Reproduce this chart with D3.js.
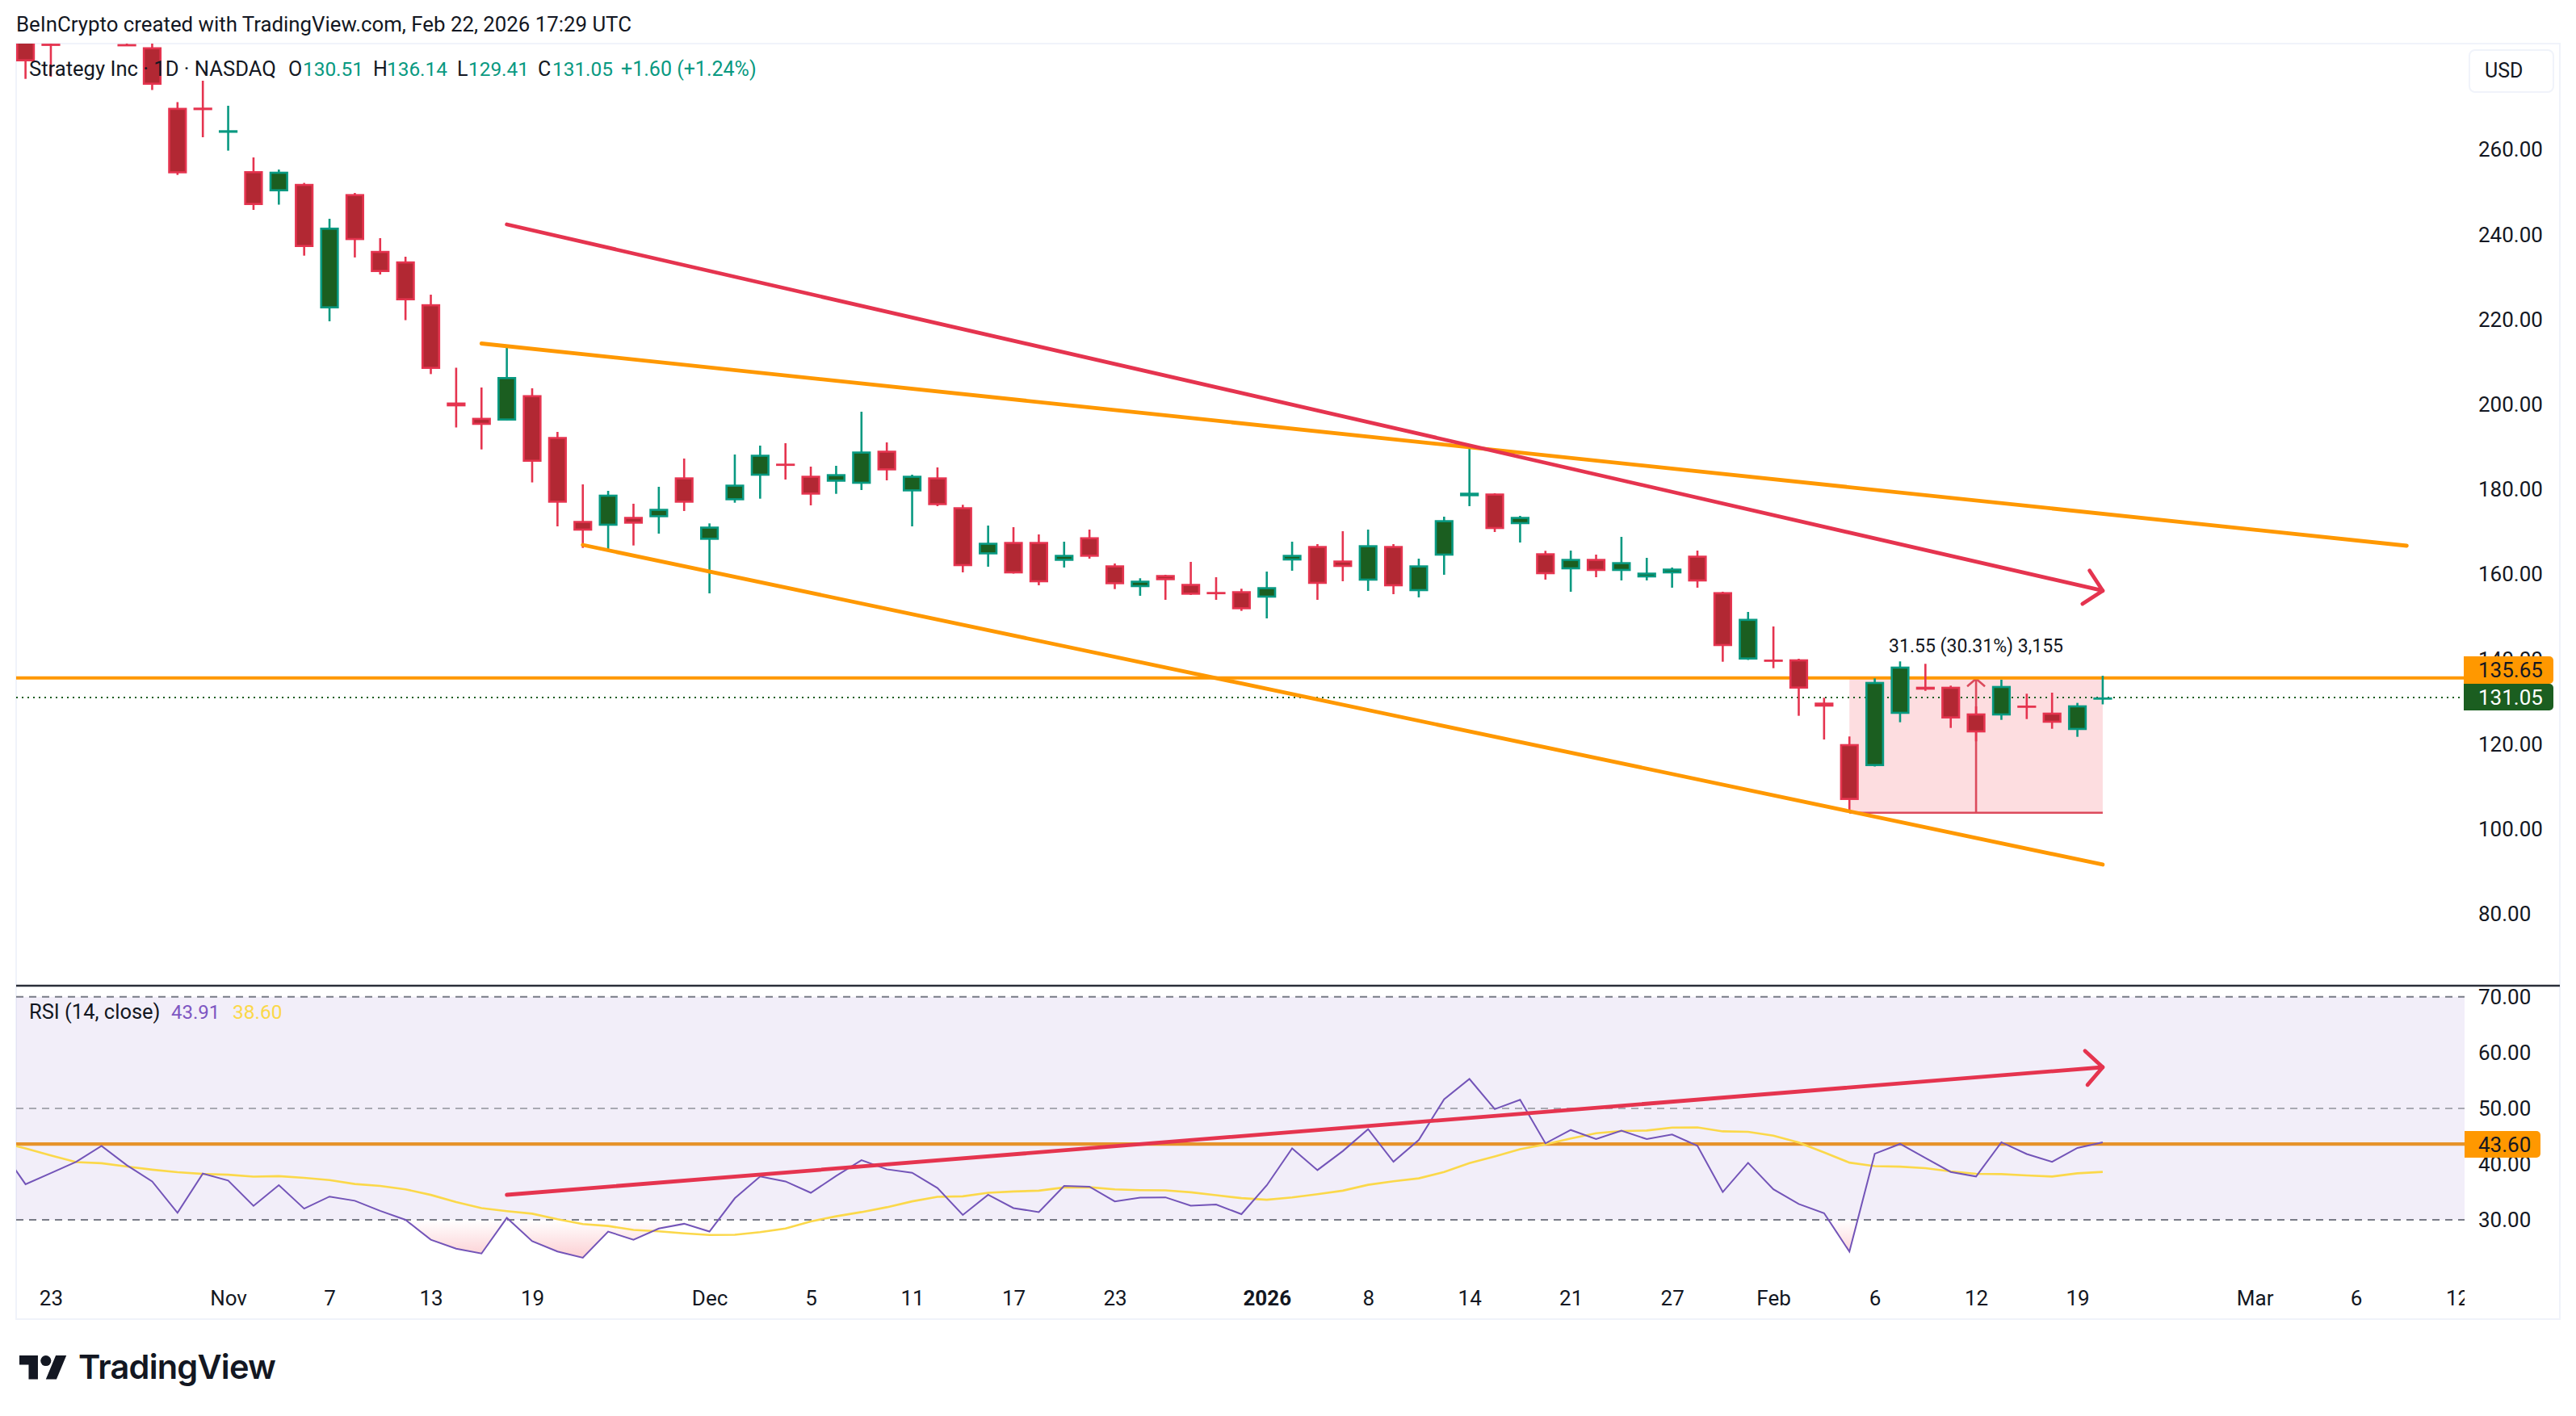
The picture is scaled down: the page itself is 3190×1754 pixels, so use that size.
<!DOCTYPE html>
<html>
<head>
<meta charset="utf-8">
<title>Strategy Inc 1D</title>
<script src="https://cdn.jsdelivr.net/npm/d3@7"></script>
<style>
  html, body { margin: 0; padding: 0; background: #ffffff; }
  svg { display: block; }
  text { font-family: Roboto, "Noto Sans", sans-serif; fill: #131722; }
</style>
</head>
<body>
<script>
// bars start on Oct 22; the last one is Feb 20
var opens = [289,285.0,290,291,284.9,284.16,269.89,269.94,264.01,254.98,250.23,251.98,222.66,249.58,236.2,233.73,223.65,200.5,196.89,196.24,
  202.23,192.38,172.61,171.47,173.56,173.48,182.87,168.16,177.47,183.25,186.1,183.25,181.84,181.35,189.15,179.56,182.87,175.84,164.73,167.66,
  167.66,163.21,168.77,162.15,157.02,159.87,157.78,155.88,156.07,154.54,163.29,166.71,163.29,158.54,166.71,156.07,164.43,178.42,179.07,171.85,
  165.0,161.2,163.67,160.82,159.3,160.25,164.43,155.84,139.96,139.96,140.02,129.83,120.06,114.87,127.17,133.56,133.56,127.28,126.79,129.13,
  127.47,123.37,130.51];
var highs = [292,290,294,295,288,286,271.24,276.27,270.38,258.21,255.36,252.21,243.76,249.85,239.2,234.83,225.89,208.69,204.03,213.73,
  203.84,193.58,181.22,179.7,176.66,180.65,187.3,172.03,188.25,190.35,190.91,185.4,185.59,198.33,191.1,183.5,185.21,176.41,171.52,171.14,
  169.43,167.72,170.57,162.59,159.11,159.93,162.97,159.35,156.64,160.68,167.72,167.15,170.19,170.57,167.15,163.73,173.61,190.15,179.13,173.8,
  165.57,165.63,164.68,168.86,163.92,161.64,165.63,155.94,151.18,147.76,140.15,130.97,121.85,135.53,139.53,138.96,133.82,128.94,135.21,131.92,
  132.17,129.76,136.14];
var lows = [276.71,277.22,287,288,284.45,274.09,254.09,262.97,259.81,245.86,247.09,235.08,219.62,234.66,230.65,219.89,207.19,194.62,189.45,196.24,
  181.68,171.33,166.26,166.01,166.83,169.62,174.95,155.55,176.9,177.85,182.36,176.28,178.99,179.89,182.17,171.33,176.09,160.5,161.83,160.21,
  157.45,161.64,163.73,156.56,154.98,154.03,155.17,154.03,151.43,149.66,160.88,154.03,158.41,156.13,155.36,154.6,159.93,176.09,170.0,167.53,
  158.79,155.93,159.35,158.6,158.6,156.89,156.89,139.45,139.87,137.93,126.72,121.14,103.9,114.77,125.2,132.6,123.86,120.71,125.76,125.95,
  123.67,121.77,129.41];
var closes = [280.84,284.64,289,292,284.55,275.32,254.47,269.35,264.62,247.0,254.85,237.11,241.68,238.75,231.22,224.56,208.41,199.59,195.23,206.5,
  186.54,176.9,170.32,178.8,171.96,175.46,176.9,171.28,181.16,188.2,185.84,178.8,183.63,188.96,184.51,183.25,176.33,161.96,167.47,160.25,
  158.16,164.62,164.17,157.7,158.54,158.65,155.23,155.61,151.81,157.02,164.62,157.78,161.77,166.9,157.21,162.15,172.8,179.26,170.7,173.56,
  160.06,163.67,160.82,162.91,160.44,161.39,158.35,143.14,149.56,139.58,133.12,128.88,106.89,134.7,138.31,132.87,126.09,122.8,133.75,128.75,
  125.08,129.19,131.05];

// one value more than the bars: the first one belongs to the bar before Oct 22
var rsiValues = [42.9,36.38,38.39,40.41,43.27,39.8,36.89,31.25,38.29,37.04,32.51,36.23,32.01,34.17,33.42,31.61,30.0,26.43,24.82,23.96,
  30.35,26.18,24.32,23.21,27.89,26.43,28.44,29.29,27.89,33.87,37.79,36.89,34.85,37.87,40.7,39.07,38.44,35.71,30.87,34.51,
  32.11,31.39,36.09,35.95,33.31,33.98,34.03,32.54,32.74,31.01,36.19,42.81,38.92,42.33,46.26,40.41,44.34,51.63,55.27,49.85,
  51.53,43.72,46.12,44.48,46.0,44.48,45.3,43.29,34.99,40.22,35.47,32.83,31.2,24.3,41.85,43.62,41.08,38.59,37.77,43.91,
  41.8,40.41,42.9,43.91];
var rsiMaValues = [43.9,42.82,41.56,40.36,40.15,39.55,39.0,38.55,38.24,38.09,37.74,37.84,37.54,37.14,36.43,36.08,35.48,34.47,33.17,32.11,
  31.56,31.1,30.1,29.24,28.89,28.19,27.94,27.58,27.28,27.33,27.78,28.44,29.72,30.63,31.39,32.26,33.31,34.13,34.22,34.85,
  35.09,35.23,35.81,35.85,35.47,35.33,35.28,34.94,34.41,33.89,33.6,34.03,34.61,35.23,36.28,36.91,37.44,38.59,40.17,41.37,
  42.66,43.53,44.58,45.54,45.92,46.02,46.55,46.59,45.87,45.78,45.11,43.86,42.09,40.26,39.64,39.54,39.26,38.68,38.25,38.2,
  37.96,37.77,38.35,38.6];

var priceTicks = [260,240,220,200,180,160,140,120,100,80];
var rsiTicks = [70,60,50,40,30];
var timeTickBars = [1,8,12,16,20,27,31,35,39,43,49,53,57,61,65,69,73,77,81,88,92,96];
var timeTickLabels = ["23","Nov","7","13","19","Dec","5","11","17","23","2026","8","14","21","27","Feb","6","12","19","Mar","6","12"];

// drawings as [bar, price] or [bar, rsi]
var redTrend = [[19,242.43],[82,156.18]];
var redTrendHead = [[81.48,160.93],[82,156.18],[81.2,153.08]];
var upperChannel = [[18,214.39],[94,166.77]];
var lowerChannel = [[22,166.96],[82,91.68]];
var rsiTrend = [[19,34.49],[82,57.37]];
var rsiTrendHead = [[81.3,60.31],[82,57.37],[81.4,54.21]];
var levelPrice = 135.65;
var lastPrice = 131.05;
var rsiLevel = 43.6;
var rangeBars = [72,82];
var rangePrices = [103.9,135.45];

var svgWidth = 3190;
var svgHeight = 1754;
var plotLeft = 20, plotRight = 3052, frameRight = 3170;
var plotTop = 54, paneLine = 1221, frameBottom = 1634;
var red = "#e5344f", redFill = "#b22833", green = "#089981", greenFill = "#1b5e20", orange = "#ff9800";

var xScale = d3.scaleLinear().domain([0, 96]).range([31.6, 3043.1]);
var priceScale = d3.scaleLinear().domain([120, 260]).range([922, 185.6]);
var rsiScale = d3.scaleLinear().domain([30, 70]).range([1511, 1234.8]);

var svg = d3.select("body").append("svg")
  .attr("width", svgWidth)
  .attr("height", svgHeight);

svg.append("rect").attr("width", svgWidth).attr("height", svgHeight).attr("fill", "#ffffff");

var defs = svg.append("defs");
defs.append("clipPath").attr("id", "mainClip").append("rect")
  .attr("x", plotLeft).attr("y", plotTop).attr("width", plotRight - plotLeft).attr("height", paneLine - plotTop);
defs.append("clipPath").attr("id", "rsiClip").append("rect")
  .attr("x", plotLeft).attr("y", paneLine).attr("width", plotRight - plotLeft).attr("height", 340);
defs.append("clipPath").attr("id", "below30").append("rect")
  .attr("x", plotLeft).attr("y", rsiScale(30)).attr("width", plotRight - plotLeft).attr("height", 120);
defs.append("clipPath").attr("id", "timeClip").append("rect")
  .attr("x", plotLeft).attr("y", 1570).attr("width", plotRight - plotLeft).attr("height", 60);
var oversold = defs.append("linearGradient").attr("id", "oversoldFill")
  .attr("gradientUnits", "userSpaceOnUse")
  .attr("x1", 0).attr("x2", 0).attr("y1", rsiScale(30)).attr("y2", rsiScale(22));
oversold.append("stop").attr("offset", 0).attr("stop-color", "#f23645").attr("stop-opacity", 0);
oversold.append("stop").attr("offset", 1).attr("stop-color", "#f23645").attr("stop-opacity", 0.28);

// frame around both panes
svg.append("rect")
  .attr("x", plotLeft).attr("y", plotTop)
  .attr("width", frameRight - plotLeft).attr("height", frameBottom - plotTop)
  .attr("fill", "none").attr("stroke", "#f0f3fa").attr("stroke-width", 2);

svg.append("text").attr("x", 20).attr("y", 39).attr("font-size", 25.8)
  .text("BeInCrypto created with TradingView.com, Feb 22, 2026 17:29 UTC");

var mainPane = svg.append("g").attr("clip-path", "url(#mainClip)");

var line = d3.line().x(d => xScale(d[0])).y(d => priceScale(d[1]));
var rsiPoint = d3.line().x(d => xScale(d[0])).y(d => rsiScale(d[1]));

// long position box sits under the candles
mainPane.append("rect")
  .attr("x", xScale(rangeBars[0])).attr("y", priceScale(rangePrices[1]))
  .attr("width", xScale(rangeBars[1]) - xScale(rangeBars[0]))
  .attr("height", priceScale(rangePrices[0]) - priceScale(rangePrices[1]))
  .attr("fill", "#f23645").attr("fill-opacity", 0.17);
var midBar = (rangeBars[0] + rangeBars[1]) / 2;
[
  [[rangeBars[0], rangePrices[0]], [rangeBars[1], rangePrices[0]]],
  [[midBar, rangePrices[0]], [midBar, rangePrices[1]]],
  [[midBar - 0.35, rangePrices[1] - 1.8], [midBar, rangePrices[1]], [midBar + 0.35, rangePrices[1] - 1.8]]
].forEach(function(pts) {
  mainPane.append("path").attr("d", line(pts))
    .attr("fill", "none").attr("stroke", "#dc4a5c").attr("stroke-width", 2.6);
});

mainPane.append("line")
  .attr("x1", plotLeft).attr("x2", plotRight)
  .attr("y1", priceScale(levelPrice)).attr("y2", priceScale(levelPrice))
  .attr("stroke", orange).attr("stroke-width", 4);
mainPane.append("line")
  .attr("x1", plotLeft).attr("x2", plotRight)
  .attr("y1", priceScale(lastPrice)).attr("y2", priceScale(lastPrice))
  .attr("stroke", "#1b5e20").attr("stroke-width", 2).attr("stroke-dasharray", "2 5");

var bars = d3.range(opens.length).map(function(i) {
  return { i: i, o: opens[i], h: highs[i], l: lows[i], c: closes[i] };
});

var candles = mainPane.append("g").selectAll("g").data(bars).enter().append("g");
candles.append("line")
  .attr("x1", d => xScale(d.i)).attr("x2", d => xScale(d.i))
  .attr("y1", d => priceScale(d.h)).attr("y2", d => priceScale(d.l))
  .attr("stroke", d => d.c >= d.o ? green : red)
  .attr("stroke-width", 2.6);
candles.append("rect")
  .attr("x", d => xScale(d.i) - 10.3)
  .attr("width", 20.6)
  .attr("y", d => priceScale(Math.max(d.o, d.c)) + 1.3)
  .attr("height", d => Math.max(0.2, priceScale(Math.min(d.o, d.c)) - priceScale(Math.max(d.o, d.c)) - 2.6))
  .attr("fill", d => d.c >= d.o ? greenFill : redFill)
  .attr("stroke", d => d.c >= d.o ? green : red)
  .attr("stroke-width", 2.6);

// trend lines go over the candles
[[upperChannel, orange], [lowerChannel, orange], [redTrend, red], [redTrendHead, red]].forEach(function(item) {
  mainPane.append("path").attr("d", line(item[0]))
    .attr("fill", "none").attr("stroke", item[1]).attr("stroke-width", 4.8)
    .attr("stroke-linecap", "round").attr("stroke-linejoin", "round");
});

svg.append("text")
  .attr("x", xScale(midBar)).attr("y", 808)
  .attr("text-anchor", "middle").attr("font-size", 23)
  .text("31.55 (30.31%) 3,155");

// legend row, sits on top of the candles
var legendItems = [
  ["Strategy Inc · 1D · NASDAQ", 36, "#131722", 25.6],
  ["O", 357, "#131722", 25], ["130.51", 375, green, 24.4],
  ["H", 462, "#131722", 25], ["136.14", 479, green, 24.4],
  ["L", 566, "#131722", 25], ["129.41", 580, green, 24.4],
  ["C", 666, "#131722", 25], ["131.05", 684, green, 24.4],
  ["+1.60 (+1.24%)", 769, green, 25]
];
svg.append("g").selectAll("text").data(legendItems).enter().append("text")
  .attr("x", d => d[1]).attr("y", 94).attr("font-size", d => d[3])
  .style("fill", d => d[2])
  .text(d => d[0]);

svg.append("rect")
  .attr("x", 3058).attr("y", 62).attr("width", 104).attr("height", 52).attr("rx", 7)
  .attr("fill", "#ffffff").attr("stroke", "#f0f3fa").attr("stroke-width", 2);
svg.append("text").attr("x", 3077).attr("y", 96).attr("font-size", 25).text("USD");

// price axis
var priceAxis = svg.append("g")
  .attr("transform", "translate(3069,0)")
  .call(d3.axisRight(priceScale).tickValues(priceTicks).tickSize(0).tickPadding(0).tickFormat(d3.format(".2f")));
priceAxis.select(".domain").remove();
priceAxis.selectAll("text").attr("font-size", 26).attr("font-family", null);

function priceTag(y0, y1, fill, textColor, label) {
  svg.append("path")
    .attr("d", "M3051," + y0 + "H3157a5,5 0 0 1 5,5V" + (y1 - 5) + "a5,5 0 0 1 -5,5H3051Z")
    .attr("fill", fill);
  svg.append("text").attr("x", 3069).attr("y", (y0 + y1) / 2 + 9)
    .attr("font-size", 26).style("fill", textColor).text(label);
}
priceTag(813, 847, orange, "#131722", levelPrice.toFixed(2));
priceTag(847, 880, "#1b5e20", "#ffffff", lastPrice.toFixed(2));

// RSI pane
var rsiPane = svg.append("g").attr("clip-path", "url(#rsiClip)");
rsiPane.append("rect")
  .attr("x", plotLeft).attr("y", rsiScale(70))
  .attr("width", plotRight - plotLeft).attr("height", rsiScale(30) - rsiScale(70))
  .attr("fill", "#7e57c2").attr("fill-opacity", 0.1);

[[70, "#787b86"], [50, "#a8a9b2"], [30, "#787b86"]].forEach(function(band) {
  rsiPane.append("line")
    .attr("x1", plotLeft).attr("x2", plotRight)
    .attr("y1", rsiScale(band[0])).attr("y2", rsiScale(band[0]))
    .attr("stroke", band[1]).attr("stroke-width", 2).attr("stroke-dasharray", "9 7");
});

rsiPane.append("g").attr("clip-path", "url(#below30)").append("path")
  .attr("d", d3.area().x((d, i) => xScale(i - 1)).y0(rsiScale(30)).y1(d => rsiScale(d))(rsiValues))
  .attr("fill", "url(#oversoldFill)");

rsiPane.append("line")
  .attr("x1", plotLeft).attr("x2", plotRight)
  .attr("y1", rsiScale(rsiLevel)).attr("y2", rsiScale(rsiLevel))
  .attr("stroke", "#e6932a").attr("stroke-width", 4.2);

rsiPane.append("path")
  .attr("d", d3.line().x((d, i) => xScale(i - 1)).y(d => rsiScale(d))(rsiMaValues))
  .attr("fill", "none").attr("stroke", "#fbd84a").attr("stroke-width", 2.6);
rsiPane.append("path")
  .attr("d", d3.line().x((d, i) => xScale(i - 1)).y(d => rsiScale(d))(rsiValues))
  .attr("fill", "none").attr("stroke", "#7354b8").attr("stroke-width", 2);

[rsiTrend, rsiTrendHead].forEach(function(pts) {
  rsiPane.append("path").attr("d", rsiPoint(pts))
    .attr("fill", "none").attr("stroke", red).attr("stroke-width", 4.8)
    .attr("stroke-linecap", "round").attr("stroke-linejoin", "round");
});

var rsiLegend = [["RSI (14, close)", 36, "#131722", 25.5], ["43.91", 212, "#7e57c2", 24], ["38.60", 288, "#fbd84a", 24.5]];
svg.append("g").selectAll("text").data(rsiLegend).enter().append("text")
  .attr("x", d => d[1]).attr("y", 1262).attr("font-size", d => d[3])
  .style("fill", d => d[2])
  .text(d => d[0]);

var rsiAxis = svg.append("g")
  .attr("transform", "translate(3069,0)")
  .call(d3.axisRight(rsiScale).tickValues(rsiTicks).tickSize(0).tickPadding(0).tickFormat(d3.format(".2f")));
rsiAxis.select(".domain").remove();
rsiAxis.selectAll("text").attr("font-size", 26).attr("font-family", null);

svg.append("path")
  .attr("d", "M3052,1401H3141a5,5 0 0 1 5,5V1429a5,5 0 0 1 -5,5H3052Z")
  .attr("fill", orange);
svg.append("text").attr("x", 3069).attr("y", 1427).attr("font-size", 26).text(rsiLevel.toFixed(2));

svg.append("line")
  .attr("x1", plotLeft).attr("x2", frameRight)
  .attr("y1", paneLine).attr("y2", paneLine)
  .attr("stroke", "#2a2e39").attr("stroke-width", 2.4);

// time axis
var timeAxis = svg.append("g").attr("clip-path", "url(#timeClip)").append("g")
  .attr("transform", "translate(0,1599)")
  .call(d3.axisBottom(xScale).tickValues(timeTickBars).tickSize(0).tickPadding(0)
    .tickFormat((d, i) => timeTickLabels[i]));
timeAxis.select(".domain").remove();
timeAxis.selectAll("text")
  .attr("font-size", 26).attr("font-family", null)
  .attr("font-weight", (d, i) => timeTickLabels[i] === "2026" ? 700 : 400);

// TradingView mark
var logo = svg.append("g").attr("transform", "translate(24,1672.4) scale(1.64)").attr("fill", "#131722");
logo.append("path").attr("d", "M14 22H7V11H0V4h14v18zM28 22h-8l7.5-18h8L28 22z");
logo.append("circle").attr("cx", 20).attr("cy", 8).attr("r", 4);
svg.append("text").attr("x", 97).attr("y", 1708)
  .attr("font-size", 41.5).attr("font-weight", 600)
  .attr("letter-spacing", -0.8)
  .style("font-family", "Inter")
  .text("TradingView");
</script>
</body>
</html>
